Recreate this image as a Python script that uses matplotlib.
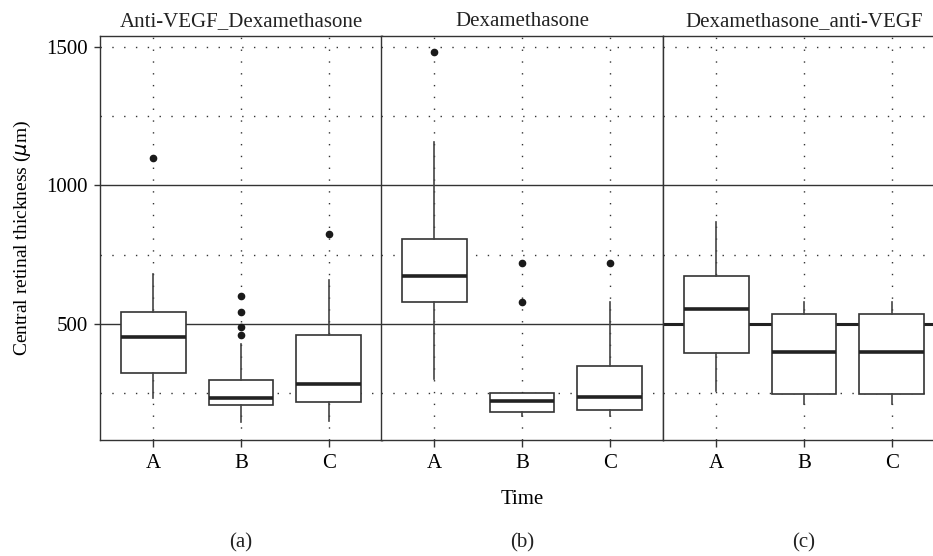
import matplotlib.pyplot as plt

plt.rcParams['font.family'] = ['Liberation Serif', 'DejaVu Serif']

# categories / labels
panels = ['Anti-VEGF_Dexamethasone', 'Dexamethasone', 'Dexamethasone_anti-VEGF']
times = ['A', 'B', 'C']
panel_tags = ['(a)', '(b)', '(c)']

# box summary values, one row per panel, columns A, B, C
q1 = [[322, 206, 218], [579, 181, 190], [394, 245, 245]]
med = [[454, 233, 284], [673, 220, 237], [554, 398, 398]]
q3 = [[542, 298, 460], [808, 250, 346], [674, 535, 535]]
whis_lo = [[232, 145, 150], [300, 165, 165], [257, 211, 211]]
whis_hi = [[679, 428, 659], [1158, 250, 579], [867, 579, 579]]
outliers = [[[1098], [599, 544, 490, 458], [824]],
            [[1481], [720, 579], [720]],
            [[], [], []]]

major_y = [500, 1000]
minor_y = [250, 750, 1250, 1500]

ink = '#333333'
dots = (0, (1, 7.5))
fs = 15

fig = plt.figure(figsize=(9.33, 5.56), dpi=100)
W, H = 933, 556
lefts = [100, 381, 663]
pw = 282
top, bottom = 36, 440

for i in range(3):
    ax = fig.add_axes([lefts[i] / W, 1 - bottom / H, pw / W, (bottom - top) / H])
    stats = []
    for j in range(3):
        stats.append(dict(q1=q1[i][j], med=med[i][j], q3=q3[i][j],
                          whislo=whis_lo[i][j], whishi=whis_hi[i][j],
                          fliers=outliers[i][j]))
    # grid first
    for y in minor_y:
        ax.axhline(y, color=ink, lw=1, ls=dots, zorder=0)
    for x in [1, 2, 3]:
        ax.axvline(x, color=ink, lw=1, ls=dots, zorder=0)
    for y in major_y:
        ax.axhline(y, color=ink, lw=1.0, zorder=0.5)
    if i == 2:
        ax.axhline(500, color='#222222', lw=2.2, zorder=0.6)
    ax.bxp(stats, positions=[1, 2, 3], widths=0.74, patch_artist=True,
           boxprops=dict(facecolor='white', edgecolor=ink, lw=1.2),
           medianprops=dict(color='#222222', lw=2.6),
           whiskerprops=dict(color='#444444', lw=1.2),
           capprops=dict(visible=False),
           flierprops=dict(marker='o', markerfacecolor='#1a1a1a',
                           markeredgecolor='#1a1a1a', markersize=4.5),
           zorder=2)
    ax.set_xlim(0.39, 3.61)
    ax.set_ylim(80, 1540)
    ax.set_xticks([1, 2, 3])
    ax.set_xticklabels(times)
    ax.tick_params(axis='x', direction='out', length=5, width=1, color=ink,
                   labelsize=fs, pad=5)
    if i == 0:
        ax.set_yticks([500, 1000, 1500])
        ax.tick_params(axis='y', direction='out', length=4, width=1, color=ink,
                       labelsize=fs, pad=5)
        ax.set_ylabel('Central retinal thickness ($\\mu$m)', fontsize=14, labelpad=9)
    else:
        ax.set_yticks([])
    for s in ax.spines.values():
        s.set_color(ink)
        s.set_linewidth(1)
    ax.set_title(panels[i], fontsize=fs, pad=7, color='#222222')
    ax.text(0.5, -0.255, panel_tags[i], transform=ax.transAxes,
            ha='center', va='center', fontsize=fs, color='#222222')
    if i == 1:
        ax.set_xlabel('Time', fontsize=fs, labelpad=12)

fig.savefig('out.png', dpi=100)
